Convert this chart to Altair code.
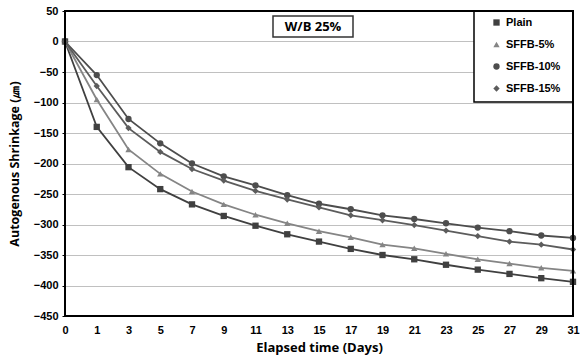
import altair as alt
import pandas as pd

days = [0, 1, 3, 5, 7, 9, 11, 13, 15, 17, 19, 21, 23, 25, 27, 29, 31]
series = ["Plain", "SFFB-5%", "SFFB-10%", "SFFB-15%"]
plain = [0, -140, -206, -242, -267, -286, -302, -316, -328, -340, -350, -357, -366, -374, -381, -388, -394]
sffb5 = [0, -95, -177, -217, -246, -267, -284, -298, -311, -321, -333, -339, -348, -357, -364, -371, -376]
sffb10 = [0, -55, -127, -167, -200, -221, -236, -252, -266, -275, -285, -291, -298, -305, -311, -318, -322]
sffb15 = [0, -73, -142, -181, -209, -228, -245, -259, -272, -285, -293, -301, -310, -319, -328, -333, -341]

colors = ["#404040", "#858585", "#4d4d4d", "#5c5c5c"]
shapes = ["square", "triangle-up", "circle", "diamond"]

rows = []
for name, vals in zip(series, [plain, sffb5, sffb10, sffb15]):
    for d, v in zip(days, vals):
        rows.append({"day": str(d), "value": v, "series": name})
df = pd.DataFrame(rows)

day_labels = [str(d) for d in days]

x = alt.X("day:O", sort=day_labels, scale=alt.Scale(type="point", padding=0),
          axis=alt.Axis(title="Elapsed time (Days)", labelAngle=0, labelFont="Liberation Sans",
                        labelFontWeight="bold", labelFontSize=11, labelColor="#000",
                        titleFont="Open Sans", titleFontWeight="bold", titleFontSize=13,
                        titleColor="#000", titlePadding=6, labelPadding=8,
                        domain=False, ticks=False, grid=False))
y = alt.Y("value:Q", scale=alt.Scale(domain=[-450, 50], nice=False),
          axis=alt.Axis(title="Autogenous Shrinkage (㎛)", values=list(range(-450, 51, 50)),
                        labelFont="Liberation Sans", labelFontWeight="bold", labelFontSize=11,
                        labelColor="#000", titleFont="Open Sans", titleFontWeight="bold",
                        titleFontSize=12.5, titleColor="#000", titlePadding=12, labelPadding=4,
                        domain=False, tickSize=3, tickColor="#000", grid=True,
                        gridColor="#c0c0c0", gridWidth=1))

color = alt.Color("series:N", sort=series, scale=alt.Scale(domain=series, range=colors),
                  legend=alt.Legend(title=None, orient="none", legendX=426, legendY=6,
                                    padding=0,
                                    labelFont="Liberation Sans", labelFontWeight="bold",
                                    labelFontSize=11, labelColor="#000", rowPadding=10,
                                    symbolSize=40, symbolStrokeWidth=0, labelOffset=4))
shape = alt.Shape("series:N", sort=series, scale=alt.Scale(domain=series, range=shapes))

lines = alt.Chart(df).mark_line(strokeWidth=1.8).encode(x=x, y=y, color=color, detail="series:N")
points = alt.Chart(df).mark_point(filled=True, size=40, opacity=1).encode(
    x=x, y=y, color=color, shape=shape)

frame = alt.Chart(pd.DataFrame({"a": [0]})).mark_rect(
    fill=None, stroke="#000", strokeWidth=2).encode(
    x=alt.value(0), x2=alt.value(508), y=alt.value(0), y2=alt.value(305))

legend_box = alt.Chart(pd.DataFrame({"a": [0]})).mark_rect(
    fill="white", stroke="#000", strokeWidth=1.5).encode(
    x=alt.value(409), x2=alt.value(508), y=alt.value(0), y2=alt.value(91))

label_df = pd.DataFrame({"t": ["W/B 25%"]})
box = alt.Chart(label_df).mark_rect(fill="white", stroke="#333", strokeWidth=1.5).encode(
    x=alt.value(208), x2=alt.value(288), y=alt.value(5), y2=alt.value(26))
txt = alt.Chart(label_df).mark_text(font="Open Sans", fontWeight="bold", fontSize=13,
                                    color="#000").encode(
    text="t:N", x=alt.value(248), y=alt.value(16))

chart = alt.layer(lines, points, legend_box, frame, box, txt).resolve_scale(
    color="shared", shape="shared").properties(
    width=508, height=305,
    autosize=alt.AutoSizeParams(type="none"),
    padding={"left": 65, "top": 11, "right": 11, "bottom": 45},
).configure_view(stroke=None).configure(background="white")

chart.save("out.html", embed_options={"renderer": "svg", "actions": False})
